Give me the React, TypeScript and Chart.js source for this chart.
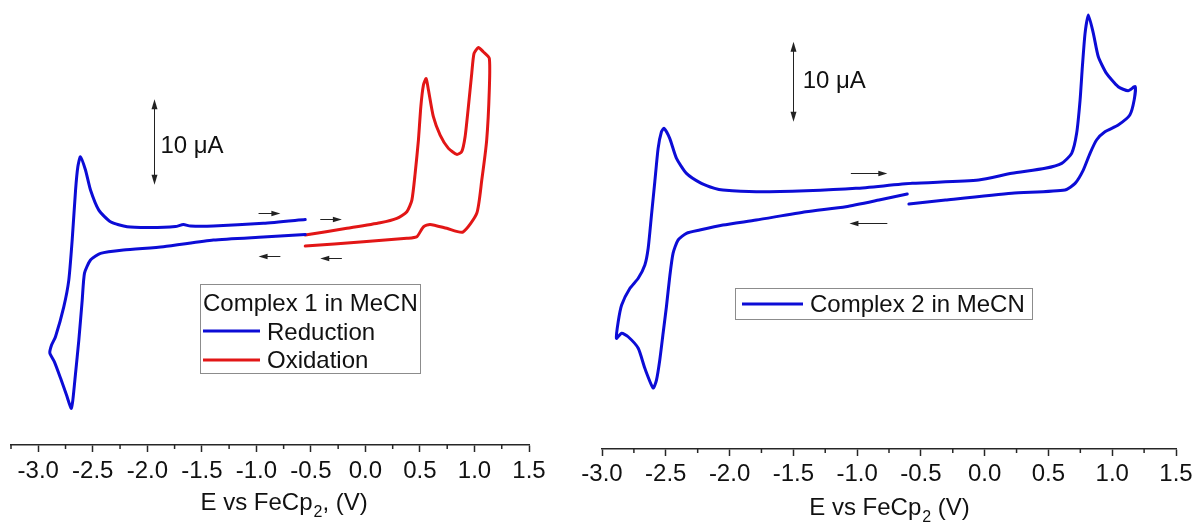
import React, { useEffect, useRef } from 'react';
import { Chart, registerables } from 'chart.js';

Chart.register(...registerables);

const FONT = "'Liberation Sans', Arial, Helvetica, sans-serif";
const BLUE = 'rgb(12,12,214)';
const RED = 'rgb(226,22,22)';
const AXIS = '#262626';
const TEXT = '#111111';

// ---------- Complex 1 in MeCN (E in V vs FeCp2, I in µA) ----------
const c1RedE = [-0.552, -0.936, -1.394, -1.852, -2.219, -2.429, -2.521, -2.576, -2.597, -2.628, -2.658, -2.683, -2.698, -2.741, -2.796, -2.851, -2.894, -2.878, -2.842, -2.766, -2.72, -2.689, -2.658, -2.637, -2.613, -2.567, -2.521, -2.445, -2.338, -2.185, -1.971, -1.742, -1.669, -1.605, -1.394, -0.936, -0.552];
const c1RedI = [-0.41, -0.7, -1.05, -1.83, -2.22, -2.61, -3.39, -4.91, -8.06, -12.74, -16.59, -19.75, -20.72, -19.16, -17.18, -15.31, -14.26, -13.32, -12.35, -8.85, -5.73, -1.05, 4.79, 7.51, 8.68, 7.13, 4.79, 2.45, 1.09, 0.5, 0.41, 0.53, 0.76, 0.58, 0.58, 0.9, 1.34];

const c1OxE = [-0.552, -0.17, 0.135, 0.288, 0.38, 0.426, 0.456, 0.486, 0.508, 0.532, 0.557, 0.578, 0.623, 0.685, 0.761, 0.838, 0.883, 0.914, 0.944, 0.975, 0.996, 1.036, 1.081, 1.136, 1.136, 1.112, 1.067, 1.021, 0.893, 0.746, 0.593, 0.532, 0.471, 0.38, -0.018, -0.552];
const c1OxI = [-0.47, 0.32, 0.97, 1.48, 2.26, 3.62, 6.74, 10.63, 14.52, 17.06, 17.82, 16.48, 13.36, 11.22, 9.66, 8.96, 9.27, 11.02, 14.52, 18.43, 20.76, 21.44, 20.95, 20.18, 16.48, 10.63, 5.96, 2.07, -0.12, 0.32, 0.78, 0.5, -0.67, -0.85, -1.25, -1.75];

// ---------- Complex 2 in MeCN ----------
const c2E = [-0.607, -0.828, -1.088, -1.401, -1.791, -2.052, -2.234, -2.338, -2.404, -2.443, -2.469, -2.495, -2.521, -2.547, -2.573, -2.599, -2.664, -2.716, -2.795, -2.846, -2.887, -2.873, -2.846, -2.781, -2.716, -2.664, -2.638, -2.612, -2.586, -2.56, -2.534, -2.513, -2.469, -2.416, -2.338, -2.221, -2.117, -2.052, -1.791, -1.401, -1.01, -0.568, -0.047, 0.213, 0.474, 0.604, 0.682, 0.721, 0.748, 0.766, 0.787, 0.8125, 0.852, 0.891, 0.955, 1.047, 1.125, 1.18, 1.172, 1.138, 1.047, 0.943, 0.877, 0.826, 0.773, 0.709, 0.63, 0.213, -0.307, -0.594];
const c2I = [-0.2, -0.95, -1.78, -2.41, -3.44, -4.07, -4.69, -5.1, -5.94, -7.6, -10.51, -14.26, -17.57, -20.9, -23.4, -24.4, -21.94, -19.44, -18.0, -17.57, -18.2, -16.13, -14.04, -11.96, -10.71, -9.05, -6.97, -2.82, 1.33, 5.5, 7.57, 7.99, 6.75, 4.25, 2.38, 1.13, 0.51, 0.3, 0.09, 0.21, 0.51, 1.13, 1.55, 2.38, 3.01, 3.63, 4.88, 7.37, 11.52, 15.68, 19.84, 22.13, 19.84, 16.92, 14.85, 13.18, 12.68, 13.21, 11.52, 9.65, 8.41, 7.57, 6.54, 4.88, 2.79, 1.13, 0.3, -0.11, -0.95, -1.45];

// ---------- axis ticks ----------
const majorTicks = [-3.0, -2.5, -2.0, -1.5, -1.0, -0.5, 0.0, 0.5, 1.0, 1.5];
const leftMinorTicks = [-3.25, -2.75, -2.25, -1.75, -1.25, -0.75, -0.25, 0.25, 0.75, 1.25];
const rightMinorTicks = [-2.75, -2.25, -1.75, -1.25, -0.75, -0.25, 0.25, 0.75, 1.25];

// ---------- texts ----------
const leftTitle: [string, string, string] = ['E vs FeCp', '2', ', (V)'];
const rightTitle: [string, string, string] = ['E vs FeCp', '2', ' (V)'];
const leftLegendTitle = 'Complex 1 in MeCN';
const scaleBarLabel = '10 \u03bcA';

// ---------- annotations (data units: V, µA) ----------
const leftArrows = [
  { from: -0.98, to: -0.78, y: 2.14 },
  { from: -0.78, to: -0.98, y: -2.92 },
  { from: -0.414, to: -0.216, y: 1.37 },
  { from: -0.216, to: -0.414, y: -3.19 },
];
const rightArrows = [
  { from: -1.049, to: -0.763, y: 2.42 },
  { from: -0.763, to: -1.06, y: -3.78 },
];
const leftBar = { x: -1.941, y0: 5.4, y1: 15.4, lx: -1.88, ly: 9.9 };
const rightBar = { x: -1.505, y0: 8.8, y1: 18.8, lx: -1.427, ly: 13.9 };

const pts = (xs: number[], ys: number[]) => xs.map((x, i) => ({ x, y: ys[i] }));

interface Decor {
  minor: number[];
  titleParts: [string, string, string];
  titleBaseline: number;
  bar: { x: number; y0: number; y1: number; lx: number; ly: number };
  arrows: { from: number; to: number; y: number }[];
  legend: {
    box: [number, number, number, number];
    title?: string;
    titleX?: number;
    titleY?: number;
    lineX0: number;
    lineX1: number;
    textX: number;
    rows: { lineY: number; textY: number }[];
  };
}

function drawArrowHead(ctx: CanvasRenderingContext2D, x: number, y: number, dx: number, dy: number, len: number, half: number) {
  const bx = x - dx * len;
  const by = y - dy * len;
  ctx.beginPath();
  ctx.moveTo(x, y);
  ctx.lineTo(bx - dy * half, by + dx * half);
  ctx.lineTo(bx + dy * half, by - dx * half);
  ctx.closePath();
  ctx.fill();
}

function makeDecor(d: Decor) {
  return {
    id: 'decor',
    afterDraw(chart: any) {
      const ctx: CanvasRenderingContext2D = chart.ctx;
      const xs = chart.scales.x;
      const ys = chart.scales.y;
      ctx.save();

      // minor ticks
      ctx.strokeStyle = AXIS;
      ctx.lineWidth = 1.5;
      const top = xs.top;
      d.minor.forEach((v) => {
        const px = xs.getPixelForValue(v);
        ctx.beginPath();
        ctx.moveTo(px, top);
        ctx.lineTo(px, top + 4);
        ctx.stroke();
      });

      // axis title with subscript
      const [a, s, b] = d.titleParts;
      ctx.fillStyle = TEXT;
      ctx.textBaseline = 'alphabetic';
      ctx.textAlign = 'left';
      const main = `24px ${FONT}`;
      const sub = `16px ${FONT}`;
      ctx.font = main;
      const wa = ctx.measureText(a).width;
      const wb = ctx.measureText(b).width;
      ctx.font = sub;
      const ws = ctx.measureText(s).width;
      const cx = (xs.getPixelForValue(majorTicks[0]) + xs.getPixelForValue(majorTicks[majorTicks.length - 1])) / 2;
      let tx = cx - (wa + ws + wb) / 2;
      ctx.font = main;
      ctx.fillText(a, tx, d.titleBaseline);
      tx += wa + 1;
      ctx.font = sub;
      ctx.fillText(s, tx, d.titleBaseline + 7);
      tx += ws;
      ctx.font = main;
      ctx.fillText(b, tx, d.titleBaseline);

      // scale bar
      ctx.strokeStyle = '#222';
      ctx.fillStyle = '#222';
      ctx.lineWidth = 1;
      const bx = Math.round(xs.getPixelForValue(d.bar.x)) + 0.5;
      const by0 = ys.getPixelForValue(d.bar.y0);
      const by1 = ys.getPixelForValue(d.bar.y1);
      ctx.beginPath();
      ctx.moveTo(bx, by0 - 8);
      ctx.lineTo(bx, by1 + 8);
      ctx.stroke();
      drawArrowHead(ctx, bx, by0, 0, 1, 10, 3);
      drawArrowHead(ctx, bx, by1, 0, -1, 10, 3);
      ctx.fillStyle = TEXT;
      ctx.font = `24px ${FONT}`;
      ctx.textBaseline = 'middle';
      ctx.fillText(scaleBarLabel, xs.getPixelForValue(d.bar.lx), ys.getPixelForValue(d.bar.ly));

      // scan-direction arrows
      ctx.strokeStyle = '#222';
      ctx.fillStyle = '#222';
      ctx.lineWidth = 1;
      d.arrows.forEach((ar) => {
        const x0 = xs.getPixelForValue(ar.from);
        const x1 = xs.getPixelForValue(ar.to);
        const y = Math.round(ys.getPixelForValue(ar.y)) + 0.5;
        const dir = x1 > x0 ? 1 : -1;
        ctx.beginPath();
        ctx.moveTo(x0, y);
        ctx.lineTo(x1 - dir * 6, y);
        ctx.stroke();
        drawArrowHead(ctx, x1, y, dir, 0, 9, 2.8);
      });

      // legend
      const L = d.legend;
      const [lx, ly, lw, lh] = L.box;
      ctx.fillStyle = '#ffffff';
      ctx.fillRect(lx, ly, lw, lh);
      ctx.strokeStyle = '#8c8c8c';
      ctx.lineWidth = 1;
      ctx.strokeRect(lx + 0.5, ly + 0.5, lw, lh);
      ctx.fillStyle = TEXT;
      ctx.font = `24px ${FONT}`;
      ctx.textBaseline = 'alphabetic';
      if (L.title) ctx.fillText(L.title, L.titleX!, L.titleY!);
      chart.data.datasets.forEach((ds: any, i: number) => {
        const r = L.rows[i];
        if (!r) return;
        ctx.strokeStyle = ds.borderColor;
        ctx.lineWidth = 3;
        ctx.beginPath();
        ctx.moveTo(L.lineX0, r.lineY);
        ctx.lineTo(L.lineX1, r.lineY);
        ctx.stroke();
        ctx.fillStyle = TEXT;
        ctx.fillText(ds.label, L.textX, r.textY);
      });

      ctx.restore();
    },
  };
}

function xAxis(min: number, height: number, pad: number) {
  return {
    type: 'linear' as const,
    min,
    max: 1.5,
    afterBuildTicks: (s: any) => {
      s.ticks = majorTicks.map((v) => ({ value: v }));
    },
    afterFit: (s: any) => {
      s.height = height;
      s.paddingLeft = 0;
      s.paddingRight = 0;
    },
    border: { display: true, color: AXIS, width: 1.5 },
    grid: { drawOnChartArea: false, drawTicks: true, tickLength: 7, tickColor: AXIS, tickWidth: 1.5 },
    ticks: {
      autoSkip: false,
      maxRotation: 0,
      padding: pad,
      color: TEXT,
      font: { family: FONT, size: 24 },
      callback: (v: any) => Number(v).toFixed(1),
    },
  };
}

const lineDs = (label: string, data: { x: number; y: number }[], color: string) => ({
  label,
  data,
  showLine: true,
  borderColor: color,
  backgroundColor: color,
  borderWidth: 3,
  pointRadius: 0,
  pointHoverRadius: 0,
  tension: 0.2,
  fill: false,
  borderJoinStyle: 'round' as const,
  borderCapStyle: 'round' as const,
});

export default function App() {
  const leftRef = useRef<HTMLCanvasElement>(null);
  const rightRef = useRef<HTMLCanvasElement>(null);

  useEffect(() => {
    const left = new Chart(leftRef.current as HTMLCanvasElement, {
      type: 'scatter',
      data: {
        datasets: [
          lineDs('Reduction', pts(c1RedE, c1RedI), BLUE),
          lineDs('Oxidation', pts(c1OxE, c1OxI), RED),
        ],
      },
      options: {
        animation: false,
        responsive: false,
        events: [],
        layout: { padding: { left: 11, right: 51, top: 0, bottom: 0 } },
        plugins: { legend: { display: false }, tooltip: { enabled: false } },
        scales: {
          x: xAxis(-3.25, 82, 5) as any,
          y: { type: 'linear', display: false, min: -25, max: 27 },
        },
      },
      plugins: [
        makeDecor({
          minor: leftMinorTicks,
          titleParts: leftTitle,
          titleBaseline: 510,
          bar: leftBar,
          arrows: leftArrows,
          legend: {
            box: [200, 284, 220, 89],
            title: leftLegendTitle,
            titleX: 203,
            titleY: 311,
            lineX0: 203,
            lineX1: 260,
            textX: 267,
            rows: [
              { lineY: 331, textY: 340 },
              { lineY: 360, textY: 368 },
            ],
          },
        }) as any,
      ],
    });

    const right = new Chart(rightRef.current as HTMLCanvasElement, {
      type: 'scatter',
      data: {
        datasets: [lineDs('Complex 2 in MeCN', pts(c2E, c2I), BLUE)],
      },
      options: {
        animation: false,
        responsive: false,
        events: [],
        layout: { padding: { left: 22, right: 16, top: 0, bottom: 0 } },
        plugins: { legend: { display: false }, tooltip: { enabled: false } },
        scales: {
          x: xAxis(-3.0, 78, 4) as any,
          y: { type: 'linear', display: false, min: -32, max: 24 },
        },
      },
      plugins: [
        makeDecor({
          minor: rightMinorTicks,
          titleParts: rightTitle,
          titleBaseline: 515,
          bar: rightBar,
          arrows: rightArrows,
          legend: {
            box: [155, 288, 297, 31],
            lineX0: 162,
            lineX1: 223,
            textX: 230,
            rows: [{ lineY: 304, textY: 312 }],
          },
        }) as any,
      ],
    });

    return () => {
      left.destroy();
      right.destroy();
    };
  }, []);

  return (
    <div style={{ position: 'fixed', left: 0, top: 0, width: 1192, height: 527, background: '#ffffff', overflow: 'hidden' }}>
      <canvas ref={leftRef} width={580} height={527} style={{ position: 'absolute', left: 0, top: 0, width: 580, height: 527 }} />
      <canvas ref={rightRef} width={612} height={527} style={{ position: 'absolute', left: 580, top: 0, width: 612, height: 527 }} />
    </div>
  );
}
